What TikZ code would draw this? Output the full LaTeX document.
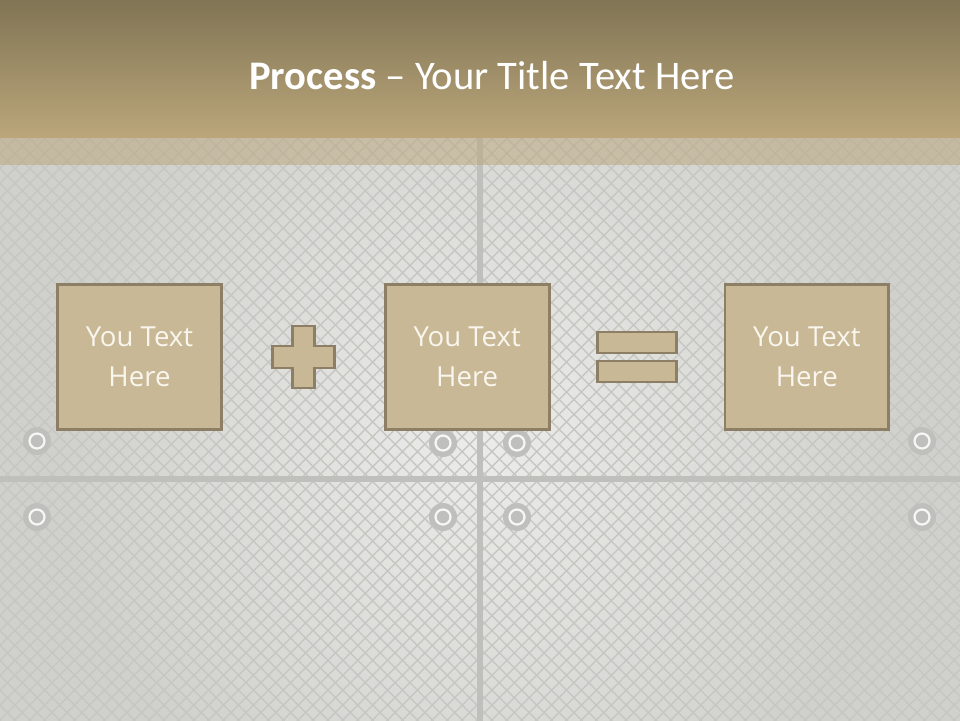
\documentclass[tikz,border=0pt]{standalone}
\usepackage{fontspec}
\setmainfont{Open Sans}
\newfontfamily\titlefont[Ligatures=TeX]{Carlito}
\usetikzlibrary{positioning, calc, patterns.meta}

\definecolor{barTop}{HTML}{7D7152}
\definecolor{barBot}{HTML}{BAA67A}
\definecolor{plate}{HTML}{D0D0CC}
\definecolor{plateDark}{HTML}{C6C6C2}
\definecolor{seam}{HTML}{BFBFBB}
\definecolor{boxFill}{HTML}{C9B896}
\definecolor{boxEdge}{HTML}{8C7F65}
\definecolor{boxText}{HTML}{F9F6EE}

\begin{document}
\begin{tikzpicture}[
    x=0.02cm, y=-0.02cm,
    textbox/.style={draw=boxEdge, fill=boxFill, line width=0.055cm,
        minimum width=3.28cm, minimum height=2.9cm, align=center,
        text=boxText, font=\fontsize{15.7}{22.7}\selectfont},
    sign/.style={draw=boxEdge, fill=boxFill, line width=0.05cm, line join=miter},
    rivet/.style={fill=seam},
]
\useasboundingbox (0,0) rectangle (960,720);
\clip (0,0) rectangle (960,720);
% metal plate
\fill[plate] (-10,-10) rectangle (970,730);
\shade[inner color=white, outer color=plate, opacity=0.6] (480,440) circle (430);
\fill[pattern={Lines[angle=45, distance=6pt, line width=0.8pt]}, pattern color=plateDark]
      (-10,137) rectangle (970,730);
\fill[pattern={Lines[angle=-45, distance=6pt, line width=0.8pt]}, pattern color=plateDark]
      (-10,137) rectangle (970,730);
% seams
\draw[seam, line width=0.12cm] (480,137) -- (480,730);
\draw[seam, line width=0.12cm] (-10,479) -- (970,479);
% rivets
\foreach \rx/\ry in {37/441, 443/443, 517/443, 922/441, 37/517, 443/517, 517/517, 922/517} {
    \fill[rivet] (\rx,\ry) circle (14);
    \draw[white!80!plate, line width=0.045cm] (\rx,\ry) circle (7.5);
}
% title bar
\shade[top color=barTop, bottom color=barBot] (-10,-10) rectangle (970,137);
\fill[barBot, opacity=0.5] (-10,137) rectangle (970,165);
\node[text=white, font=\titlefont\fontsize{23.1}{28}\selectfont] (title) at (492,76)
      {\textbf{Process} – Your Title Text Here};
% the three boxes
\node[textbox] (first) at (139.5,357) {You Text\\Here};
\node[textbox, right=3.22cm of first] (second) {You Text\\Here};
\node[textbox, right=3.46cm of second] (result) {You Text\\Here};
% plus and equals signs
\coordinate (plus) at ($(first.east)!0.5!(second.west)$);
\coordinate (equals) at ($(second.east)!0.5!(result.west)$);
\draw[sign] ([shift={(-11,-31)}]plus) -- ++(22,0) -- ++(0,20) -- ++(20,0) -- ++(0,22)
      -- ++(-20,0) -- ++(0,20) -- ++(-22,0) -- ++(0,-20) -- ++(-20,0) -- ++(0,-22)
      -- ++(20,0) -- cycle;
\draw[sign] ([shift={(-39.5,-25)}]equals) rectangle ++(79,21);
\draw[sign] ([shift={(-39.5,4)}]equals) rectangle ++(79,21);
\end{tikzpicture}
\end{document}
